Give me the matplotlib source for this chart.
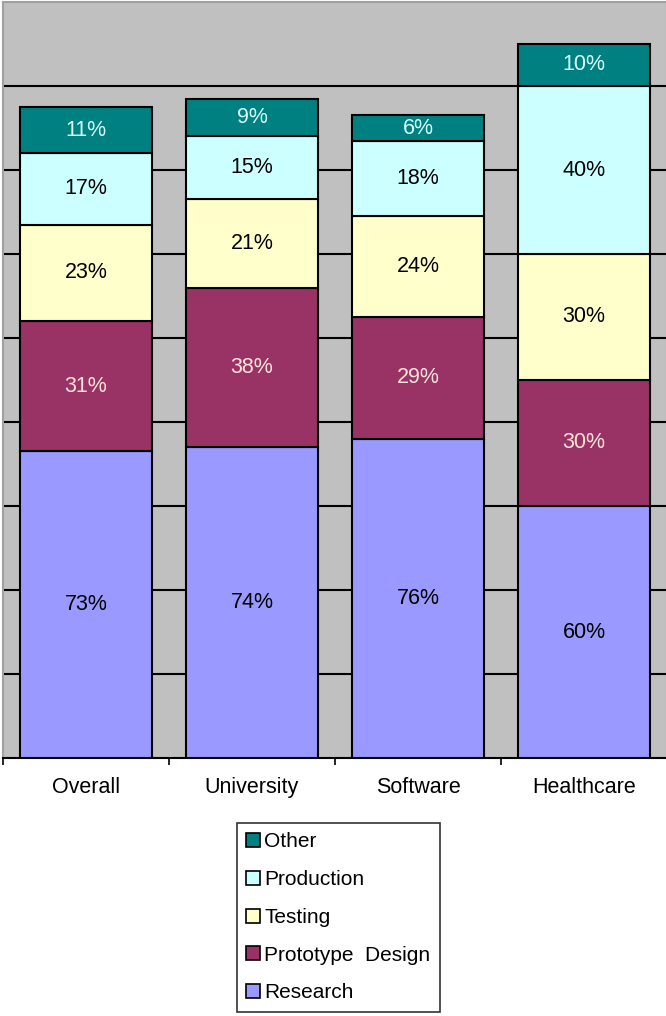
import matplotlib
matplotlib.use("Agg")
import matplotlib.pyplot as plt
import numpy as np
from matplotlib.patches import Patch

plt.rcParams['font.family'] = ['Liberation Sans', 'DejaVu Sans']

categories = ["Overall", "University", "Software", "Healthcare"]
series_names = ["Research", "Prototype  Design", "Testing", "Production", "Other"]
research = [73, 74, 76, 60]
prototype = [31, 38, 29, 30]
testing = [23, 21, 24, 30]
production = [17, 15, 18, 40]
other = [11, 9, 6, 10]

series = [research, prototype, testing, production, other]
colors = ["#9999FF", "#993366", "#FFFFCC", "#CCFFFF", "#008080"]
label_colors = ["black", "#FFE4D8", "black", "black", "#D8FFFF"]

fig = plt.figure(figsize=(6.66, 10.16), dpi=100)
ax = fig.add_axes([3/666, 1 - 758/1016, 664/666, 756/1016])
ax.set_facecolor("#C0C0C0")

x = np.arange(len(categories))
bottom = np.zeros(len(categories))
for vals, c, lc in zip(series, colors, label_colors):
    vals = np.array(vals, dtype=float)
    ax.bar(x, vals, bottom=bottom, width=0.8, color=c,
           edgecolor="black", linewidth=1.5, zorder=3)
    for xi, b, v in zip(x, bottom, vals):
        ax.text(xi, b + v / 2, f"{int(v)}%", ha="center", va="center",
                fontsize=15.5, color=lc, zorder=4)
    bottom += vals

ax.set_xlim(-0.5, 3.5)
ax.set_ylim(0, 180)
ax.set_yticks(np.arange(20, 180, 20))
ax.yaxis.grid(True, color="black", linewidth=1.5, zorder=1)
ax.tick_params(axis="y", left=False, labelleft=False)
ax.set_xticks(x)
ax.set_xticklabels(categories, fontsize=15.5)
ax.set_xticks(np.arange(-0.5, 4.0, 1.0), minor=True)
ax.tick_params(axis="x", which="major", length=0, pad=14)
ax.tick_params(axis="x", which="minor", length=5, width=1.2, color="black", direction="out")

for s in ["left", "top", "right"]:
    ax.spines[s].set_color("#A0A0A0")
    ax.spines[s].set_linewidth(1.5)
ax.spines["bottom"].set_color("black")
ax.spines["bottom"].set_linewidth(1.5)

handles = [Patch(facecolor=c, edgecolor="black", linewidth=1.2, label=n)
           for c, n in zip(colors, series_names)]
handles = handles[::-1]
leg = fig.legend(handles=handles, loc="upper left",
                 bbox_to_anchor=(237/666, 1 - 823/1016), fontsize=15,
                 frameon=True, fancybox=False, edgecolor="black",
                 handlelength=0.65, handleheight=0.65, handletextpad=0.2,
                 labelspacing=0.9, borderpad=0.45, borderaxespad=0)
leg.get_frame().set_linewidth(1.2)

fig.savefig("out.png", dpi=100, facecolor="white")
